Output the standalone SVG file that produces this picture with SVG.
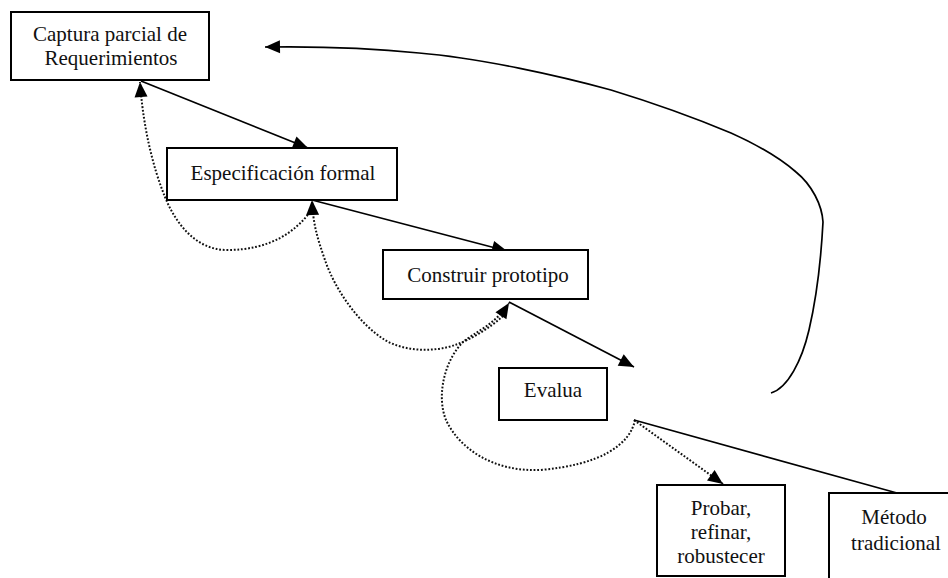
<svg xmlns="http://www.w3.org/2000/svg" width="948" height="578" viewBox="0 0 948 578">
  <style>
    .box { fill: #fff; stroke: #000; stroke-width: 2; }
    .lbl { font-family: "Liberation Serif", "Times New Roman", serif; font-size: 21px; fill: #111; text-anchor: middle; }
    .solid { fill: none; stroke: #000; stroke-width: 1.7; }
    .dots { fill: none; stroke: #111; stroke-width: 2; stroke-dasharray: 1.8 1.8; }
  </style>
  <defs>
    <marker id="head" markerUnits="userSpaceOnUse" markerWidth="15" markerHeight="13" refX="15" refY="6.5" orient="auto" overflow="visible">
      <path d="M0,0 L15,6.5 L0,13 z" fill="#000"/>
    </marker>
  </defs>

  <rect width="948" height="578" fill="#fff"/>

  <g id="connectors">
    <!-- forward flow -->
    <line class="solid" x1="141" y1="81" x2="308" y2="148" marker-end="url(#head)"/>
    <line class="solid" x1="312" y1="200" x2="507" y2="251" marker-end="url(#head)"/>
    <line class="solid" x1="509" y1="302" x2="634" y2="367" marker-end="url(#head)"/>
    <!-- long return loop to the start -->
    <path class="solid" d="M771,393 C788,388 802,360 809,330 C816,300 821,260 823,222 C822,205 812,185 796,172 C780,158 760,146 731,133 C700,120 660,105 611,90 C560,76 480,58 419,53 C380,49 330,46 265,47" marker-end="url(#head)"/>
    <!-- dotted feedback loops -->
    <path class="dots" d="M310,212 C295,232 270,250 227,250 C195,250 175,222 165,197 C152,165 143,125 140,82" marker-end="url(#head)"/>
    <path class="dots" d="M503,316 C490,328 470,340 455,345 C435,352 405,352 385,340 C360,325 335,290 325,260 C318,240 313,225 312,200" marker-end="url(#head)"/>
    <path class="dots" d="M635,420 C630,445 600,465 540,470 C495,472 460,450 446,420 C436,395 445,360 463,342 C475,332 495,325 509,303" marker-end="url(#head)"/>
    <!-- exits -->
    <line class="dots" x1="634" y1="420" x2="723" y2="484" marker-end="url(#head)"/>
    <line class="solid" x1="634" y1="420" x2="897" y2="493"/>
  </g>

  <g id="captura">
    <rect class="box" x="11" y="12" width="198" height="68"/>
    <text class="lbl" x="110" y="41">Captura parcial de</text>
    <text class="lbl" x="111" y="65">Requerimientos</text>
  </g>

  <g id="especificacion">
    <rect class="box" x="167" y="148" width="230" height="52"/>
    <text class="lbl" x="283" y="180">Especificación formal</text>
  </g>

  <g id="construir">
    <rect class="box" x="383" y="250" width="205" height="49"/>
    <text class="lbl" x="488" y="282">Construir prototipo</text>
  </g>

  <g id="evalua">
    <rect class="box" x="499" y="368" width="108" height="52"/>
    <text class="lbl" x="553" y="397">Evalua</text>
  </g>

  <g id="probar">
    <rect class="box" x="657" y="485" width="128" height="91"/>
    <text class="lbl" x="721" y="515">Probar,</text>
    <text class="lbl" x="721" y="539">refinar,</text>
    <text class="lbl" x="721" y="563">robustecer</text>
  </g>

  <g id="metodo">
    <rect class="box" x="829" y="493" width="140" height="110"/>
    <text class="lbl" x="894" y="524">Método</text>
    <text class="lbl" x="896" y="550">tradicional</text>
  </g>
</svg>
